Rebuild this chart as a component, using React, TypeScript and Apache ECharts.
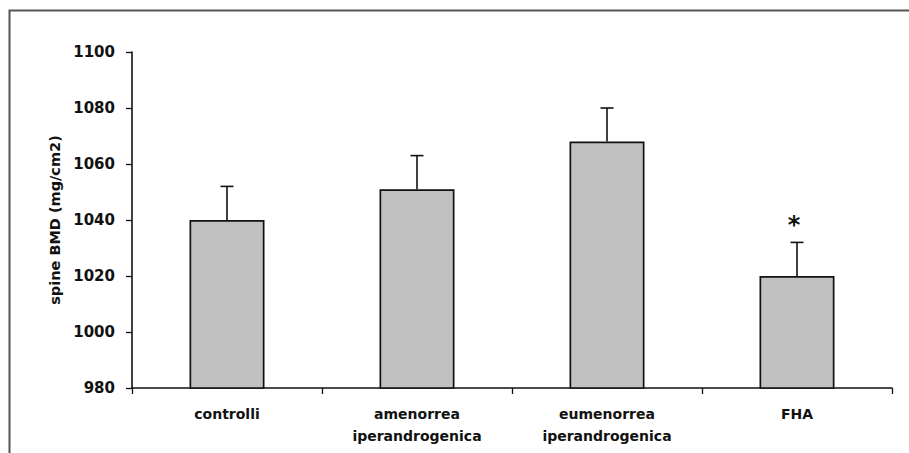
import React, { useEffect, useRef } from "react";
import * as echarts from "echarts";

// Spine bone mineral density by group (mean + SD)
const categories = ["controlli", "amenorrea\niperandrogenica", "eumenorrea\niperandrogenica", "FHA"];
const meanBMD = [1040, 1051, 1068, 1020];
const sdBMD = [12, 12, 12, 12];
const significance = ["", "", "", "*"];
const yTicks = { min: 980, max: 1100, interval: 20 };
const yAxisTitle = "spine BMD (mg/cm2)";

const FONT = "'DejaVu Sans', 'Liberation Sans', Arial, sans-serif";

export default function App() {
  const ref = useRef<HTMLDivElement>(null);

  useEffect(() => {
    if (!ref.current) return;
    const chart = echarts.init(ref.current, undefined, { renderer: "svg" });

    const errorData = categories.map((_, i) => [i, meanBMD[i], sdBMD[i]]);

    chart.setOption({
      animation: false,
      backgroundColor: "#ffffff",
      grid: { left: 132, right: 17, top: 52, bottom: 65, containLabel: false },
      xAxis: {
        type: "category",
        data: categories,
        boundaryGap: true,
        axisLine: { show: true, lineStyle: { color: "#111", width: 1.6 } },
        axisTick: { show: true, length: 6, lineStyle: { color: "#111", width: 1.3 } },
        axisLabel: {
          margin: 15,
          color: "#111",
          fontFamily: FONT,
          fontWeight: "bold",
          fontSize: 14,
          lineHeight: 22,
          interval: 0,
        },
      },
      yAxis: {
        type: "value",
        min: yTicks.min,
        max: yTicks.max,
        interval: yTicks.interval,
        axisLine: { show: true, lineStyle: { color: "#111", width: 1.6 } },
        axisTick: { show: true, length: 6, lineStyle: { color: "#111", width: 1.3 } },
        splitLine: { show: false },
        axisLabel: {
          margin: 17,
          color: "#111",
          fontFamily: FONT,
          fontWeight: "bold",
          fontSize: 15,
          formatter: (v: number) => String(v),
        },
      },
      series: [
        {
          type: "bar",
          data: meanBMD,
          barWidth: 75,
          itemStyle: { color: "#c0c0c0", borderColor: "#111", borderWidth: 1.7 },
          z: 2,
        },
        {
          type: "custom",
          data: errorData,
          z: 3,
          clip: false,
          renderItem: (params: any, api: any) => {
            const idx = api.value(0);
            const mean = api.value(1);
            const sd = api.value(2);
            const base = api.coord([idx, mean]);
            const top = api.coord([idx, mean + sd]);
            const half = 6.5;
            const children: any[] = [
              {
                type: "line",
                shape: { x1: base[0], y1: base[1], x2: top[0], y2: top[1] },
                style: { stroke: "#111", lineWidth: 1.6 },
              },
              {
                type: "line",
                shape: { x1: top[0] - half, y1: top[1], x2: top[0] + half, y2: top[1] },
                style: { stroke: "#111", lineWidth: 1.6 },
              },
            ];
            const mark = significance[params.dataIndex];
            if (mark) {
              children.push({
                type: "text",
                x: top[0] - 3,
                y: top[1] - 17,
                style: {
                  text: mark,
                  fill: "#111",
                  font: `bold 24px ${FONT}`,
                  align: "center",
                  verticalAlign: "middle",
                },
              });
            }
            return { type: "group", children };
          },
        },
      ],
      graphic: [
        {
          type: "rect",
          shape: { x: 9.5, y: 10.5, width: 920, height: 460 },
          style: { fill: "none", stroke: "#555", lineWidth: 2 },
          silent: true,
          z: 0,
        },
        {
          type: "text",
          x: 55,
          y: 220,
          rotation: Math.PI / 2,
          style: {
            text: yAxisTitle,
            fill: "#111",
            font: `bold 14.5px ${FONT}`,
            align: "center",
            verticalAlign: "middle",
          },
        },
      ],
    });

    return () => chart.dispose();
  }, []);

  return (
    <div
      ref={ref}
      style={{ position: "absolute", left: 0, top: 0, width: 909, height: 453 }}
    />
  );
}
